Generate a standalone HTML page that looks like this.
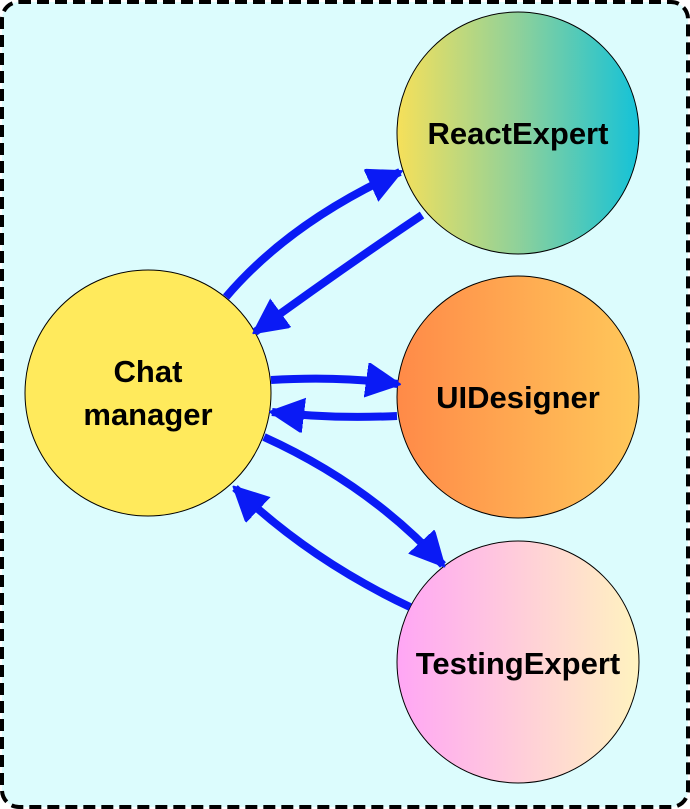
<!DOCTYPE html>
<html><head><style>
html,body{margin:0;padding:0;background:#fff;}
svg{display:block;}
text{font-family:"Liberation Sans",sans-serif;font-weight:bold;font-size:31px;fill:#000;}
</style></head><body>
<svg width="690" height="809" viewBox="0 0 690 809" xmlns="http://www.w3.org/2000/svg">
<defs>
<linearGradient id="gr" x1="0" x2="1" y1="0" y2="0"><stop offset="0" stop-color="#f6e05a"/><stop offset="0.5" stop-color="#8fd19a"/><stop offset="1" stop-color="#14c2d8"/></linearGradient>
<linearGradient id="gu" x1="0" x2="1" y1="0" y2="0"><stop offset="0" stop-color="#ff8a48"/><stop offset="1" stop-color="#ffc85a"/></linearGradient>
<linearGradient id="gt" x1="0" x2="1" y1="0" y2="0"><stop offset="0" stop-color="#ffa6f5"/><stop offset="1" stop-color="#fff3bf"/></linearGradient>
<marker id="ah" markerUnits="userSpaceOnUse" markerWidth="40" markerHeight="40" refX="32" refY="17" orient="auto"><path d="M0,0 L34,17 L0,34 Z" fill="#0a1af5" stroke="#0a1af5" stroke-width="2" stroke-linejoin="round"/></marker>
</defs>
<rect x="2" y="2" width="686" height="805" rx="17" fill="#dcfcfd" stroke="#000" stroke-width="4" stroke-dasharray="12 6"/>
<circle cx="148" cy="393" r="123" fill="#ffea5c" stroke="#000" stroke-width="1"/>
<circle cx="518" cy="133" r="121" fill="url(#gr)" stroke="#000" stroke-width="1"/>
<circle cx="518" cy="397" r="121" fill="url(#gu)" stroke="#000" stroke-width="1"/>
<circle cx="518" cy="662" r="121" fill="url(#gt)" stroke="#000" stroke-width="1"/>
<g fill="none" stroke="#0a1af5" stroke-width="8" marker-end="url(#ah)">
<path d="M226,297 Q290,222 400,172"/>
<path d="M422,215 Q340,270 255,332"/>
<path d="M271,380 Q340,376 398,384"/>
<path d="M397,416 Q330,419 272,412"/>
<path d="M264,437 Q370,485 443,565"/>
<path d="M410,607 Q310,560 235,488"/>
</g>
<text x="148" y="382" text-anchor="middle">Chat</text>
<text x="148" y="425" text-anchor="middle">manager</text>
<text x="518" y="144" text-anchor="middle">ReactExpert</text>
<text x="518" y="408" text-anchor="middle">UIDesigner</text>
<text x="518" y="674" text-anchor="middle">TestingExpert</text>
</svg>
</body></html>
